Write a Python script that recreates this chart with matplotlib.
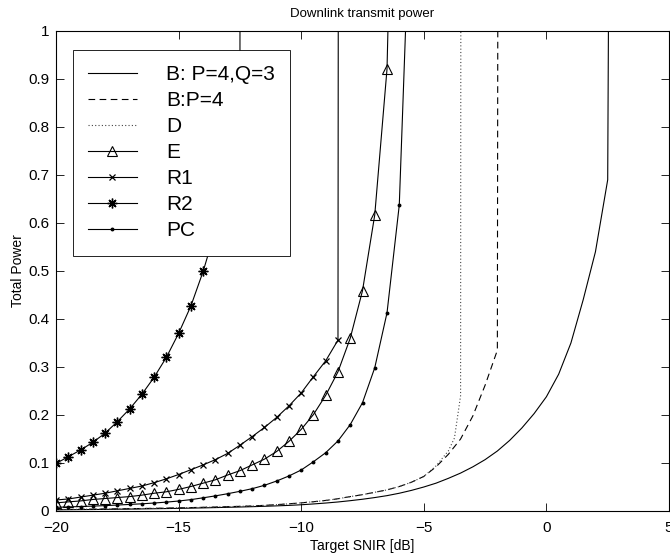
import numpy as np
import matplotlib
matplotlib.use("Agg")
import matplotlib.pyplot as plt

plt.rcParams['font.family'] = ['Liberation Sans', 'DejaVu Sans']

# ---- data (Target SNIR [dB] vs Total Power) ----
x_b43 = np.arange(-20, 3.01, 0.5)
p_b43 = [0.0025, 0.0027, 0.0029, 0.0031, 0.0034, 0.0037, 0.0040, 0.0043, 0.0047,
         0.0051, 0.0055, 0.0060, 0.0065, 0.0071, 0.0077, 0.0083, 0.0090,
         0.0098, 0.0107, 0.0117, 0.0130,
         0.0147, 0.0166, 0.0188, 0.0215,
         0.0245, 0.028, 0.032, 0.037, 0.043, 0.050,
         0.058, 0.068, 0.079, 0.092, 0.107, 0.125,
         0.147, 0.173, 0.203, 0.238,
         0.285, 0.35, 0.44, 0.54, 0.69, 6.0]

x_b4 = np.arange(-20, -1.49, 0.5)
p_b4 = [0.0031, 0.0033, 0.0036, 0.0039, 0.0042, 0.0045, 0.0048, 0.0052, 0.0056,
        0.0061, 0.0066, 0.0071, 0.0077, 0.0083, 0.0090, 0.0097, 0.0105,
        0.0118, 0.0132, 0.0150, 0.0170,
        0.0193, 0.0220, 0.0255, 0.0300,
        0.034, 0.039, 0.044, 0.051, 0.060, 0.072,
        0.092, 0.118, 0.150, 0.198, 0.262, 0.335, 20.0]

x_d = list(np.arange(-20, -3.99, 0.5)) + [-3.75, -3.5, -3.25]
p_d = [0.0031, 0.0033, 0.0036, 0.0039, 0.0042, 0.0045, 0.0048, 0.0052, 0.0056,
       0.0061, 0.0066, 0.0071, 0.0077, 0.0083, 0.0090, 0.0097, 0.0105,
       0.0118, 0.0132, 0.0150, 0.0170,
       0.0193, 0.0220, 0.0255, 0.0300,
       0.034, 0.039, 0.044, 0.051, 0.060, 0.072,
       0.094, 0.125, 0.152, 0.240, 20.0]

x_e = np.arange(-20, -5.99, 0.5)
p_e = [0.017, 0.019, 0.021, 0.024, 0.026, 0.028, 0.030, 0.033, 0.037, 0.040,
       0.045, 0.051, 0.058, 0.065, 0.075, 0.084, 0.096, 0.108, 0.124, 0.145,
       0.170, 0.201, 0.241, 0.290, 0.360, 0.459, 0.617, 0.921, 2.0]

x_r1 = np.arange(-20, -7.99, 0.5)
p_r1 = [0.023, 0.025, 0.029, 0.033, 0.037, 0.042, 0.047, 0.052, 0.059, 0.067,
        0.076, 0.086, 0.096, 0.107, 0.120, 0.137, 0.155, 0.174, 0.195, 0.219,
        0.246, 0.280, 0.313, 0.356, 30.0]

x_r2 = np.arange(-20, -11.99, 0.5)
p_r2 = [0.099, 0.113, 0.127, 0.143, 0.162, 0.186, 0.2125, 0.243, 0.2785, 0.320,
        0.370, 0.427, 0.499, 0.585, 0.69, 0.82, 30.0]

x_pc = np.arange(-20, -5.49, 0.5)
p_pc = [0.0077, 0.0085, 0.0093, 0.0102, 0.0112, 0.0124, 0.0137, 0.0150, 0.0166,
        0.0185, 0.0208, 0.0237, 0.0275, 0.0315, 0.036, 0.041, 0.0465, 0.0535,
        0.0625, 0.073, 0.0854, 0.1027, 0.1215, 0.146, 0.180, 0.2256, 0.2985,
        0.413, 0.6375, 1.35]

labels = ['B: P=4,Q=3', 'B:P=4', 'D', 'E', 'R1', 'R2', 'PC']
xticks = [-20, -15, -10, -5, 0, 5]
yticks = [0, 0.1, 0.2, 0.3, 0.4, 0.5, 0.6, 0.7, 0.8, 0.9, 1]
ytick_labels = ['0', '0.1', '0.2', '0.3', '0.4', '0.5', '0.6', '0.7', '0.8', '0.9', '1']

fig = plt.figure(figsize=(6.7, 5.57), dpi=100)
ax = fig.add_axes([56/670, 1 - 511/557, 613/670, 480/557])

lw = 0.8
ax.plot(x_b43, p_b43, '-', color='black', lw=lw, label=labels[0])
ax.plot(x_b4, p_b4, color='black', lw=lw, linestyle=(0, (6, 4)), label=labels[1])
ax.plot(x_d, p_d, color='#444444', lw=lw, linestyle=(0, (1, 2)), label=labels[2])
ax.plot(x_e, p_e, '-', color='black', lw=lw, marker='^', markersize=7,
        markerfacecolor='none', markeredgecolor='black', markeredgewidth=0.8,
        label=labels[3])
ax.plot(x_r1, p_r1, '-', color='black', lw=lw, marker='x', markersize=5,
        markeredgewidth=0.9, label=labels[4])
ax.plot(x_r2, p_r2, '-', color='black', lw=lw, marker=(8, 2, 0), markersize=7,
        markeredgewidth=1.0, label=labels[5])
ax.plot(x_pc, p_pc, '-', color='black', lw=lw, marker='o', markersize=1.8,
        label=labels[6])

ax.set_xlim(-20, 5)
ax.set_ylim(0, 1)
ax.set_xticks(xticks)
ax.set_xticklabels([str(t).replace('-', '\u2212') for t in xticks])
ax.set_yticks(yticks)
ax.set_yticklabels(ytick_labels)
ax.tick_params(direction='in', length=6, width=0.6, top=True, right=True,
               labelsize=11)
ax.tick_params(axis='x', pad=7)
ax.tick_params(axis='y', pad=5)
for s in ax.spines.values():
    s.set_linewidth(0.8)

ax.set_title('Downlink transmit power', fontsize=9.5, pad=10)
ax.set_xlabel('Target SNIR [dB]', fontsize=10, labelpad=3)
ax.set_ylabel('Total Power', fontsize=10, labelpad=2)

leg = ax.legend(loc='upper left', bbox_to_anchor=(17/613, 461/480),
                borderaxespad=0, fancybox=False, framealpha=1,
                edgecolor='black', fontsize=15, handlelength=2.35,
                handletextpad=1.4, labelspacing=0.34, borderpad=0.72)
leg.get_frame().set_linewidth(0.6)
leg.set_zorder(10)

fig.savefig('out.png', dpi=100)
